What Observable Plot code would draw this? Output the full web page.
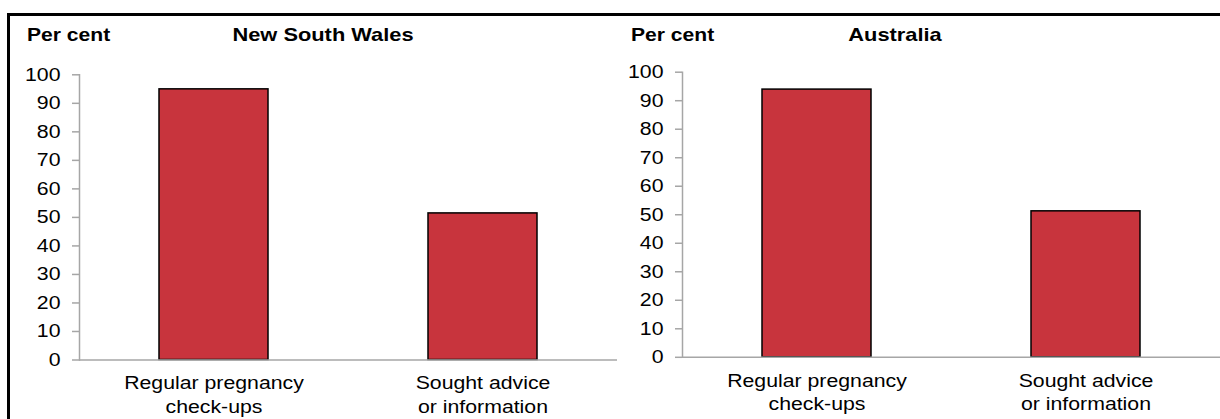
<!DOCTYPE html>
<html><head><meta charset="utf-8">
<script src="https://cdn.jsdelivr.net/npm/d3@7"></script>
<script src="https://cdn.jsdelivr.net/npm/@observablehq/plot@0.6"></script>
<style>
body{margin:0;background:#fff;}
#wrap{position:relative;width:1220px;height:419px;overflow:hidden;font-family:"Liberation Sans",Arial,sans-serif;background:#fff;}
.frameT{position:absolute;left:7px;top:13px;width:1213px;height:3px;background:#000}
.frameL{position:absolute;left:7px;top:13px;width:3px;height:406px;background:#000}
.lbl{position:absolute;font-weight:bold;font-size:18.5px;white-space:nowrap;line-height:1;color:#000}
.panel{position:absolute;top:0}
</style></head><body>
<div id="wrap">
  <div class="frameT"></div><div class="frameL"></div>
  <div id="p1" class="panel" style="left:0"></div>
  <div id="p2" class="panel" style="left:610px"></div>
  <div id="yl1" class="lbl" style="left:27px;top:26px;transform:scaleX(1.14);transform-origin:left top"></div>
  <div id="t1" class="lbl" style="left:323px;top:26px;transform:translateX(-50%) scaleX(1.18);transform-origin:center top"></div>
  <div id="yl2" class="lbl" style="left:631px;top:26px;transform:scaleX(1.14);transform-origin:left top"></div>
  <div id="t2" class="lbl" style="left:895px;top:26px;transform:translateX(-50%) scaleX(1.18);transform-origin:center top"></div>
</div>
<script>
const categories = ["Regular pregnancy\ncheck-ups", "Sought advice\nor information"];
const nswValues = [94.9, 51.4];
const ausValues = [93.9, 51.2];
const yTicks = [0, 10, 20, 30, 40, 50, 60, 70, 80, 90, 100];
const panelTitles = ["New South Wales", "Australia"];
const yLabel = "Per cent";

const barFill = "#c8343d";
const axisGray = "#a6a6a6";

function panel(values, opts) {
  const data = categories.map((c, i) => ({category: c, value: values[i]}));
  return Plot.plot({
    width: opts.width,
    height: 419,
    marginLeft: opts.ml,
    marginRight: opts.mr,
    marginTop: opts.mt,
    marginBottom: opts.mb,
    style: {background: "transparent", fontFamily: "Liberation Sans, Arial, sans-serif", fontSize: "18.5px", color: "#000", overflow: "visible"},
    x: {domain: categories, paddingInner: 0.595, paddingOuter: 0.2975, axis: null},
    y: {domain: [0, 100], axis: null},
    marks: [
      Plot.barY(data, {x: "category", y: "value", fill: barFill, stroke: "#000", strokeWidth: 1.5}),
      Plot.frame({anchor: "left", stroke: axisGray, strokeWidth: 1.5}),
      Plot.ruleY([0], {stroke: axisGray, strokeWidth: 1.5}),
      Plot.axisY(yTicks, {tickSize: 7, tickPadding: 12, stroke: axisGray, strokeWidth: 1.5, fill: "#000", label: null, fontSize: 18.5, tickFormat: d => String(d)}),
      Plot.text(data, {x: "category", y: 0, text: "category", dy: 13, lineAnchor: "top", lineHeight: 1.25, fill: "#000", fontSize: 18.5, textAnchor: "middle"})
    ]
  });
}

const p1 = panel(nswValues, {width: 620, ml: 79, mr: 3, mt: 74.3, mb: 419 - 359.5});
const p2 = panel(ausValues, {width: 610, ml: 72, mr: 0, mt: 71.7, mb: 419 - 356.8});
document.getElementById("p1").appendChild(p1);
document.getElementById("p2").appendChild(p2);
document.getElementById("yl1").textContent = yLabel;
document.getElementById("yl2").textContent = yLabel;
document.getElementById("t1").textContent = panelTitles[0];
document.getElementById("t2").textContent = panelTitles[1];

// horizontal stretch of glyphs to match the reference's wide lettering
for (const svg of [p1, p2]) {
  svg.querySelectorAll("text").forEach(t => {
    const tr = t.getAttribute("transform");
    if (tr) t.setAttribute("transform", tr + " scale(1.15,1)");
  });
}
</script>
</body></html>
